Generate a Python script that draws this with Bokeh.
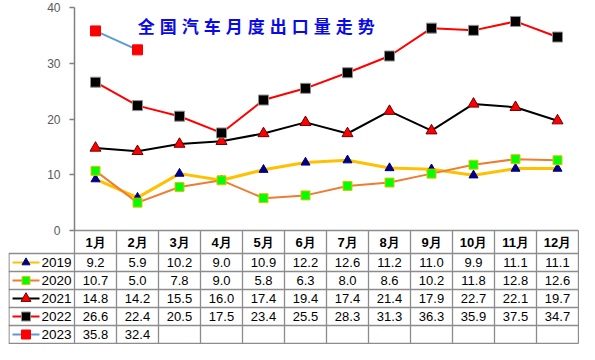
from bokeh.plotting import figure
from bokeh.models import LinearAxis, FixedTicker, Range1d
from bokeh.core.properties import value
from bokeh.embed import file_html
from bokeh.resources import INLINE

# ---------------- data ----------------
months = ["1月", "2月", "3月", "4月", "5月", "6月", "7月", "8月", "9月", "10月", "11月", "12月"]
years = ["2019", "2020", "2021", "2022", "2023"]
v2019 = [9.2, 5.9, 10.2, 9.0, 10.9, 12.2, 12.6, 11.2, 11.0, 9.9, 11.1, 11.1]
v2020 = [10.7, 5.0, 7.8, 9.0, 5.8, 6.3, 8.0, 8.6, 10.2, 11.8, 12.8, 12.6]
v2021 = [14.8, 14.2, 15.5, 16.0, 17.4, 19.4, 17.4, 21.4, 17.9, 22.7, 22.1, 19.7]
v2022 = [26.6, 22.4, 20.5, 17.5, 23.4, 25.5, 28.3, 31.3, 36.3, 35.9, 37.5, 34.7]
v2023 = [35.8, 32.4]
y_ticks = [0, 10, 20, 30, 40]
title_text = "全国汽车月度出口量走势"

series_values = [v2019, v2020, v2021, v2022, v2023]

# ---------------- styles ----------------
styles = [
    dict(line="#FFC000", lw=3, marker="triangle", size=9, fill="#000080", mline="#000080"),
    dict(line="#ED7D31", lw=2, marker="square", size=9, fill="#00FF00", mline="#E8C000"),
    dict(line="#000000", lw=2, marker="triangle", size=11, fill="#FF0000", mline="#700000"),
    dict(line="#FF0000", lw=2, marker="square", size=10, fill="#000000", mline="#909090"),
    dict(line="#5B9BD5", lw=2, marker="square", size=10, fill="#FF0000", mline="#FF0000"),
]

# ---------------- geometry (pixels -> data) ----------------
FIG_W, FIG_H = 579, 344
LEFT = 8
CW = 42.0           # px per month column
LEG_W = 66.0        # px of legend column
Y40_PX = 7.0
Y0_PX = 230.0
K = (Y0_PX - Y40_PX) / 40.0   # px per unit
HEAD_H = 23.0
ROW_H = 18.0

x_start = -LEG_W / CW
x_end = 12 + (FIG_W - LEFT - LEG_W - 12 * CW) / CW
y_end = 40 + Y40_PX / K
y_start = -(FIG_H - Y0_PX) / K

p = figure(width=FIG_W, height=FIG_H,
           x_range=Range1d(x_start, x_end), y_range=Range1d(y_start, y_end),
           output_backend="svg", toolbar_location=None,
           x_axis_location=None, y_axis_location=None,
           min_border_left=LEFT, min_border_right=0,
           min_border_top=0, min_border_bottom=0,
           background_fill_color="white", border_fill_color="white",
           outline_line_color=None)
p.grid.visible = False

yaxis = LinearAxis(fixed_location=0, bounds=(0, 40),
                   ticker=FixedTicker(ticks=y_ticks),
                   axis_line_color="#808080", axis_line_width=1.5,
                   major_tick_line_color="#808080", major_tick_line_width=1.5,
                   major_tick_out=5, major_tick_in=0,
                   minor_tick_out=0, minor_tick_in=0,
                   major_label_text_font="Liberation Sans",
                   major_label_text_font_size="12px",
                   major_label_text_color="#595959",
                   major_label_standoff=9)
p.add_layout(yaxis, "left")

n = len(months)
xs = [i + 0.5 for i in range(n)]

# ---------------- table grid ----------------
head_bot = -HEAD_H / K
row_tops = [-(HEAD_H + i * ROW_H) / K for i in range(len(years) + 1)]
table_bot = row_tops[-1]
gx0, gy0, gx1, gy1 = [], [], [], []
# top of header (x axis line)
gx0.append(0); gy0.append(0); gx1.append(n); gy1.append(0)
# row separators
for yt in row_tops:
    gx0.append(x_start); gy0.append(yt); gx1.append(n); gy1.append(yt)
# vertical lines
for i in range(n + 1):
    gx0.append(i); gy0.append(0); gx1.append(i); gy1.append(table_bot)
gx0.append(x_start + 0.5 / CW); gy0.append(head_bot); gx1.append(x_start + 0.5 / CW); gy1.append(table_bot)
p.segment(x0=gx0, y0=gy0, x1=gx1, y1=gy1, line_color="#8c8c8c", line_width=1.3)

# header labels
p.text(x=xs, y=[-HEAD_H / 2 / K] * n, text=months,
       text_font=value("Liberation Sans"), text_font_style="bold",
       text_font_size="13px", text_color="#000000",
       text_align="center", text_baseline="middle")

# ---------------- series ----------------
for vals, st in zip(series_values, styles):
    sx = xs[:len(vals)]
    p.line(sx, vals, line_color=st["line"], line_width=st["lw"])
    p.scatter(sx, vals, marker=st["marker"], size=st["size"],
              fill_color=st["fill"], line_color=st["mline"], line_width=1)

# ---------------- table rows ----------------
lx0 = x_start + 4 / CW
lx1 = x_start + 31 / CW
lxm = (lx0 + lx1) / 2
ltx = x_start + 33 / CW
for r, (yr, vals, st) in enumerate(zip(years, series_values, styles)):
    yc = -(HEAD_H + (r + 0.5) * ROW_H) / K
    p.segment(x0=[lx0], y0=[yc], x1=[lx1], y1=[yc], line_color=st["line"], line_width=2)
    p.scatter([lxm], [yc], marker=st["marker"], size=st["size"] - 1,
              fill_color=st["fill"], line_color=st["mline"], line_width=1)
    p.text(x=[ltx], y=[yc], text=[yr],
           text_font=value("Liberation Sans"), text_font_size="13.5px",
           text_color="#000000", text_align="left", text_baseline="middle")
    p.text(x=xs[:len(vals)], y=[yc] * len(vals), text=["%.1f" % v for v in vals],
           text_font=value("Liberation Sans"), text_font_size="13px",
           text_color="#000000", text_align="center", text_baseline="middle")

# ---------------- title ----------------
chars = list(title_text)
pitch = 22.0 / CW
t0 = 1.71
p.text(x=[t0 + i * pitch for i in range(len(chars))], y=[36.7] * len(chars), text=chars,
       text_font=value("Noto Sans CJK SC"), text_font_style="bold",
       text_font_size="17px", text_color="#0A0AE6",
       text_align="center", text_baseline="middle")

open("out.html", "w").write(file_html(p, INLINE))
